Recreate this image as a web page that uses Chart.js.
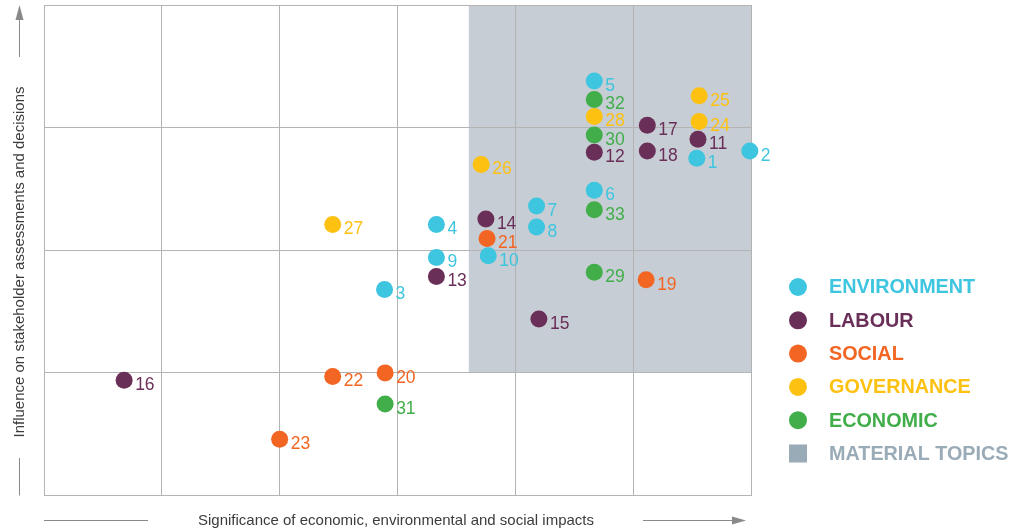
<!DOCTYPE html>
<html>
<head>
<meta charset="utf-8">
<title>Materiality matrix</title>
<script src="https://cdn.jsdelivr.net/npm/chart.js@4.4.0/dist/chart.umd.min.js"></script>
<style>
    html, body { margin: 0; padding: 0; background: #fff; }
    canvas { display: block; }
</style>
</head>
<body>
<canvas id="matrixChart" width="1011" height="532"></canvas>
<script>
/* Topic data: id, significance (x), influence (y) */
const environmentIds = [1, 2, 3, 4, 5, 6, 7, 8, 9, 10];
const environmentX = [5.54, 5.99, 2.89, 3.33, 4.67, 4.67, 4.18, 4.18, 3.33, 3.77];
const environmentY = [2.75, 2.81, 1.68, 2.21, 3.38, 2.49, 2.36, 2.19, 1.94, 1.955];

const labourIds = [11, 12, 13, 14, 15, 16, 17, 18];
const labourX = [5.55, 4.67, 3.33, 3.75, 4.20, 0.68, 5.12, 5.12];
const labourY = [2.905, 2.80, 1.785, 2.255, 1.44, 0.94, 3.02, 2.81];

const socialIds = [19, 20, 21, 22, 23];
const socialX = [5.11, 2.895, 3.76, 2.45, 2.0];
const socialY = [1.76, 1.00, 2.095, 0.97, 0.458];

const governanceIds = [24, 25, 26, 27, 28];
const governanceX = [5.56, 5.56, 3.71, 2.45, 4.67];
const governanceY = [3.05, 3.26, 2.70, 2.21, 3.09];

const economicIds = [29, 30, 31, 32, 33];
const economicX = [4.67, 4.67, 2.895, 4.67, 4.67];
const economicY = [1.82, 2.94, 0.746, 3.23, 2.33];

// material topics zone (x range, y range)
const materialX = [3.605, 6];
const materialY = [1, 4];

const categories = ['ENVIRONMENT', 'LABOUR', 'SOCIAL', 'GOVERNANCE', 'ECONOMIC'];
const materialLabel = 'MATERIAL TOPICS';
const xTitle = 'Significance of economic, environmental and social impacts';
const yTitle = 'Influence on stakeholder assessments and decisions';

const colors = ['#3ec5df', '#6a2f58', '#f26522', '#fdc112', '#41ae4a'];
const materialFill = '#c6cdd4';
const materialKey = '#9aabb8';
const FONT = '"Liberation Sans", Arial, Helvetica, sans-serif';

function toPoints(ids, xs, ys) {
    return ids.map((id, i) => ({ x: xs[i], y: ys[i], id: id }));
}

const groups = [
    toPoints(environmentIds, environmentX, environmentY),
    toPoints(labourIds, labourX, labourY),
    toPoints(socialIds, socialX, socialY),
    toPoints(governanceIds, governanceX, governanceY),
    toPoints(economicIds, economicX, economicY)
];

// Grey block behind the grid
const materialZone = {
    id: 'materialZone',
    beforeDraw(chart) {
        const { ctx, scales: { x, y } } = chart;
        const left = x.getPixelForValue(materialX[0]);
        const right = x.getPixelForValue(materialX[1]);
        const top = y.getPixelForValue(materialY[1]);
        const bottom = y.getPixelForValue(materialY[0]);
        ctx.save();
        ctx.fillStyle = materialFill;
        ctx.fillRect(left, top, right - left, bottom - top);
        ctx.restore();
    }
};

// Topic numbers next to each dot
const pointLabels = {
    id: 'pointLabels',
    afterDatasetsDraw(chart) {
        const ctx = chart.ctx;
        ctx.save();
        ctx.font = '17.5px ' + FONT;
        ctx.textBaseline = 'middle';
        ctx.textAlign = 'left';
        chart.data.datasets.forEach((ds, di) => {
            const meta = chart.getDatasetMeta(di);
            ctx.fillStyle = ds.backgroundColor;
            meta.data.forEach((pt, i) => {
                ctx.fillText(String(ds.data[i].id), pt.x + 11, pt.y + 5);
            });
        });
        ctx.restore();
    }
};

// Axis titles with arrows, and the category key
const decorations = {
    id: 'decorations',
    afterDraw(chart) {
        const ctx = chart.ctx;
        const area = chart.chartArea;
        ctx.save();

        ctx.strokeStyle = '#8a8a8a';
        ctx.fillStyle = '#8a8a8a';
        ctx.lineWidth = 1;

        // x axis arrow
        const ay = 520.5;
        ctx.beginPath();
        ctx.moveTo(area.left, ay);
        ctx.lineTo(148, ay);
        ctx.moveTo(643, ay);
        ctx.lineTo(734, ay);
        ctx.stroke();
        ctx.beginPath();
        ctx.moveTo(746, ay);
        ctx.lineTo(732, ay - 4);
        ctx.lineTo(732, ay + 4);
        ctx.closePath();
        ctx.fill();

        // y axis arrow
        const ax = 19.5;
        ctx.beginPath();
        ctx.moveTo(ax, area.bottom);
        ctx.lineTo(ax, 458);
        ctx.moveTo(ax, 57);
        ctx.lineTo(ax, 18);
        ctx.stroke();
        ctx.beginPath();
        ctx.moveTo(ax, 5);
        ctx.lineTo(ax - 4, 20);
        ctx.lineTo(ax + 4, 20);
        ctx.closePath();
        ctx.fill();

        ctx.fillStyle = '#3c3c3c';
        ctx.font = '15px ' + FONT;
        ctx.textAlign = 'center';
        ctx.textBaseline = 'middle';
        ctx.fillText(xTitle, 396, 521);

        ctx.translate(20, 262);
        ctx.rotate(-Math.PI / 2);
        ctx.fillText(yTitle, 0, 0);
        ctx.setTransform(1, 0, 0, 1, 0, 0);

        // key
        const keyX = 798;
        const keyTop = 287;
        const keyStep = 33.3;
        ctx.font = 'bold 19.8px ' + FONT;
        ctx.textAlign = 'left';
        categories.forEach((name, i) => {
            const cy = keyTop + i * keyStep;
            ctx.fillStyle = colors[i];
            ctx.beginPath();
            ctx.arc(keyX, cy, 9, 0, Math.PI * 2);
            ctx.fill();
            ctx.fillText(name, 829, cy + 1);
        });
        const sy = keyTop + categories.length * keyStep;
        ctx.fillStyle = materialKey;
        ctx.fillRect(keyX - 9, sy - 9, 18, 18);
        ctx.fillText(materialLabel, 829, sy + 1);

        ctx.restore();
    }
};

const ctx = document.getElementById('matrixChart').getContext('2d');

new Chart(ctx, {
    type: 'scatter',
    data: {
        datasets: groups.map((pts, i) => ({
            label: categories[i],
            data: pts,
            backgroundColor: colors[i],
            borderWidth: 0,
            pointRadius: 8.5,
            pointHoverRadius: 8.5,
            clip: false
        }))
    },
    options: {
        responsive: false,
        animation: false,
        events: [],
        layout: {
            autoPadding: false,
            padding: { left: 44, top: 5, right: 260, bottom: 36.5 }
        },
        plugins: {
            legend: { display: false },
            tooltip: { enabled: false }
        },
        scales: {
            x: {
                type: 'linear',
                min: 0,
                max: 6,
                ticks: { stepSize: 1, display: false },
                grid: { color: '#b3b3b3', lineWidth: 1, drawTicks: false },
                border: { color: '#b3b3b3' },
                afterFit(scale) { scale.height = 0; }
            },
            y: {
                type: 'linear',
                min: 0,
                max: 4,
                ticks: { stepSize: 1, display: false },
                grid: { color: '#b3b3b3', lineWidth: 1, drawTicks: false },
                border: { color: '#b3b3b3' },
                afterFit(scale) { scale.width = 0; }
            }
        }
    },
    plugins: [materialZone, pointLabels, decorations]
});
</script>
</body>
</html>
